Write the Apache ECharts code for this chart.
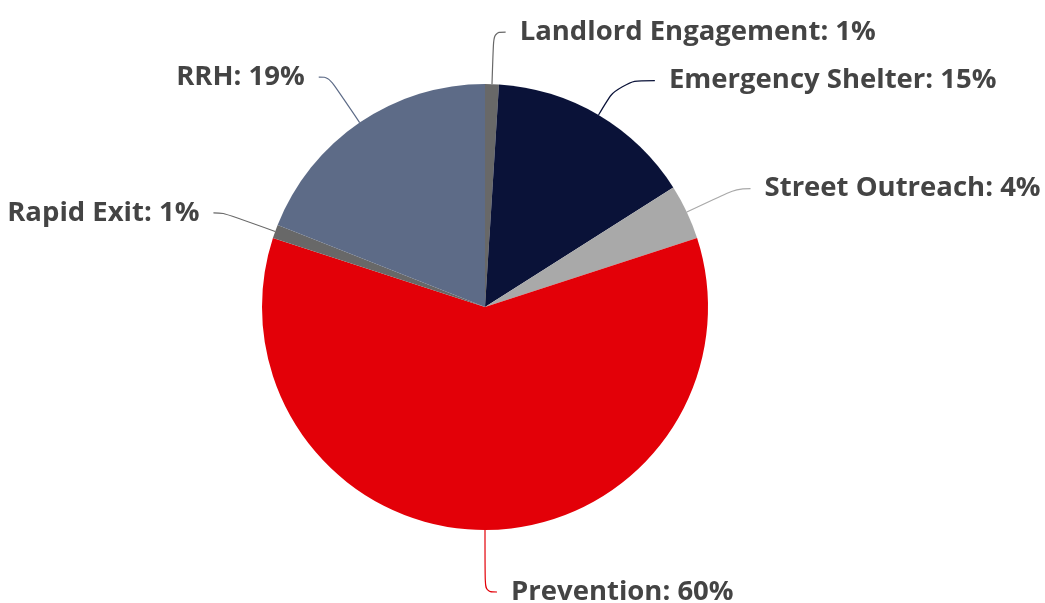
<!DOCTYPE html>
<html>
<head>
<meta charset="utf-8">
<script src="https://cdn.jsdelivr.net/npm/echarts@6/dist/echarts.min.js"></script>
<style>
  html, body { margin: 0; padding: 0; background: #ffffff; }
  #chart { width: 1045px; height: 603px; }
</style>
</head>
<body>
<div id="chart"></div>
<script>
// Funding share by program type (percent)
const categories = [
  'Landlord Engagement',
  'Emergency Shelter',
  'Street Outreach',
  'Prevention',
  'Rapid Exit',
  'RRH'
];
const shares = [1, 15, 4, 60, 1, 19];
const sliceColors = ['#686868', '#0a1238', '#a9a9a9', '#e30008', '#686868', '#5d6b87'];
// Leader line lengths per slice: [radial part, horizontal part]
const leaderLengths = [[52, 12], [40, 36], [55, 14], [62, 12], [55, 10], [55, 10]];

const chart = echarts.init(document.getElementById('chart'), null, { renderer: 'canvas' });

chart.setOption({
  animation: false,
  backgroundColor: '#ffffff',
  series: [{
    type: 'pie',
    center: [485, 307],
    radius: [0, 223],
    startAngle: 90,
    clockwise: true,
    avoidLabelOverlap: false,
    data: categories.map((name, i) => ({
      name,
      value: shares[i],
      itemStyle: { color: sliceColors[i] },
      labelLine: { length: leaderLengths[i][0], length2: leaderLengths[i][1] }
    })),
    label: {
      show: true,
      position: 'outside',
      formatter: '{b}: {c}%',
      color: '#444444',
      fontFamily: 'Open Sans',
      fontWeight: 'bold',
      fontSize: 27.5,
      distanceToLabelLine: 14
    },
    labelLine: {
      show: true,
      smooth: 0.4,
      lineStyle: { width: 1.2 }
    },
    emphasis: { disabled: true }
  }]
});
</script>
</body>
</html>
